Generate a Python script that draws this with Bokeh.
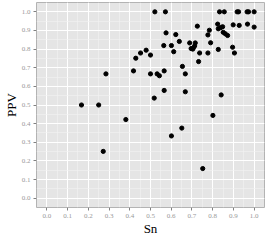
from bokeh.plotting import figure
from bokeh.embed import file_html
from bokeh.resources import INLINE
from bokeh.models import Range1d, FixedTicker

sn = [0.521, 0.572, 0.833, 0.856, 0.918, 0.925, 0.966, 0.973, 1.0,
      0.824, 0.726, 0.827, 0.838, 0.848, 0.899, 0.928, 0.968, 1.0,
      0.784, 0.777, 0.851, 0.861, 0.872, 0.575, 0.622, 0.639, 0.689,
      0.716, 0.713, 0.707, 0.696, 0.704, 0.790, 0.564, 0.601, 0.612,
      0.479, 0.452, 0.429, 0.500, 0.737, 0.777, 0.827, 0.896, 0.905,
      0.732, 0.654, 0.418, 0.500, 0.285, 0.532, 0.543, 0.566, 0.668,
      0.566, 0.668, 0.518, 0.841, 0.167, 0.250, 0.381, 0.801, 0.651,
      0.601, 0.272, 0.752]
ppv = [1.0, 1.0, 1.0, 1.0, 1.0, 1.0, 1.0, 1.0, 1.0,
       0.934, 0.923, 0.909, 0.915, 0.920, 0.930, 0.927, 0.934, 0.918,
       0.901, 0.876, 0.890, 0.882, 0.873, 0.887, 0.878, 0.841, 0.833,
       0.833, 0.817, 0.807, 0.803, 0.800, 0.834, 0.819, 0.819, 0.786,
       0.794, 0.779, 0.751, 0.768, 0.779, 0.779, 0.798, 0.810, 0.779,
       0.733, 0.707, 0.683, 0.667, 0.667, 0.667, 0.657, 0.683, 0.667,
       0.578, 0.571, 0.537, 0.554, 0.500, 0.500, 0.422, 0.444, 0.376,
       0.334, 0.251, 0.159]

ticks = [i / 10 for i in range(11)]
tick_labels = {t: f"{t:.1f}" for t in ticks}
minor = [i / 20 for i in range(-1, 22)]

p = figure(frame_width=228, frame_height=205, output_backend="svg", toolbar_location=None,
           x_range=Range1d(-0.05, 1.05), y_range=Range1d(-0.05, 1.05))
p.min_border_left = 0
p.min_border_right = 5
p.min_border_top = 2
p.min_border_bottom = 0
p.background_fill_color = "#e5e5e5"
p.border_fill_color = "white"
p.outline_line_color = "#b3b3b3"
p.outline_line_width = 1

for ax in (p.xaxis, p.yaxis):
    ax.ticker = FixedTicker(ticks=ticks, minor_ticks=minor)
    ax.major_label_overrides = tick_labels
    ax.axis_line_color = None
    ax.major_tick_line_color = "#808080"
    ax.major_tick_out = 3
    ax.major_tick_in = 0
    ax.minor_tick_line_color = None
    ax.major_label_text_font = "Liberation Serif"
    ax.major_label_text_font_size = "7px"
    ax.major_label_text_color = "#999999"
    ax.major_label_standoff = 2
    ax.axis_label_text_font = "Liberation Serif"
    ax.axis_label_text_font_size = "13px"
    ax.axis_label_text_font_style = "normal"
    ax.axis_label_text_color = "black"
    ax.axis_label_standoff = 0

p.xaxis.axis_label = "Sn"
p.yaxis.axis_label = "PPV"

for g in (p.xgrid, p.ygrid):
    g.grid_line_color = "white"
    g.grid_line_width = 1
    g.minor_grid_line_color = "#f2f2f2"
    g.minor_grid_line_width = 0.6

p.scatter(sn, ppv, size=4.2, color="black")

open("out.html", "w").write(file_html(p, INLINE))
